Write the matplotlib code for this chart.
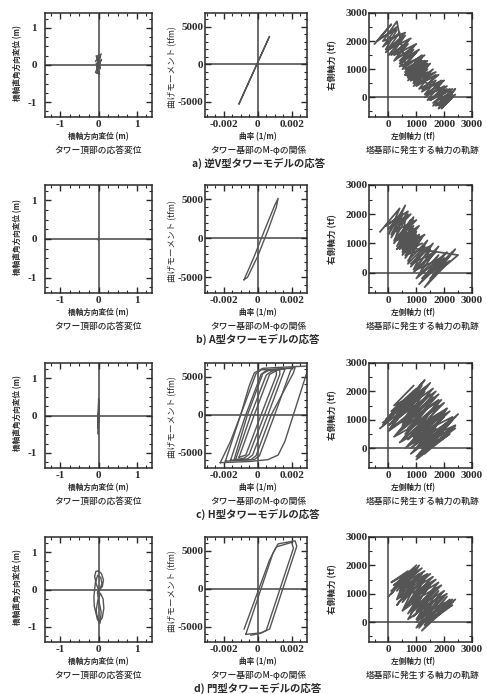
import matplotlib
matplotlib.use("Agg")
import matplotlib.pyplot as plt
import numpy as np

plt.rcParams['font.family'] = ['Noto Sans CJK JP', 'DejaVu Sans']
plt.rcParams['axes.unicode_minus'] = False

W, H = 487, 694
LINE = '#555555'
INK = '#2a2a2a'

# --- tower top displacement (m) ---
DISP_A_X = [0.00, -0.06, 0.05, -0.08, 0.07, -0.05, 0.08, -0.08, 0.03, -0.06, 0.05, 0.00, -0.05, 0.04, -0.03, 0.02, 0.00]
DISP_A_Y = [0.00, 0.25, 0.20, 0.10, 0.30, -0.05, 0.15, -0.20, -0.25, 0.05, -0.10, 0.28, -0.15, 0.12, -0.22, 0.08, 0.00]
DISP_B_X = [0.00, 0.01, -0.01, 0.00]
DISP_B_Y = [0.00, 0.02, -0.02, 0.00]
DISP_C_X = [0.00, 0.006, -0.005, 0.008, -0.006, 0.004, -0.003, 0.00]
DISP_C_Y = [0.00, 0.40, -0.35, 0.30, -0.50, 0.45, -0.20, 0.00]
DISP_D_X = [0.00, -0.06, -0.10, -0.07, 0.00, 0.08, 0.13, 0.10, 0.03, -0.03, 0.02, 0.09, 0.06, -0.02, -0.08,
            -0.12, -0.11, -0.05, 0.03, 0.10, 0.14, 0.12, 0.05, -0.02, -0.06, -0.03, 0.04, 0.07, 0.02, -0.02, 0.00]
DISP_D_Y = [0.00, 0.15, 0.35, 0.48, 0.50, 0.42, 0.25, 0.08, 0.00, -0.10, -0.02, 0.15, 0.32, 0.38, 0.20,
            -0.20, -0.45, -0.70, -0.85, -0.75, -0.50, -0.25, -0.10, -0.30, -0.55, -0.80, -0.90, -0.60, -0.35, -0.15, 0.00]

# --- M-phi at tower base: curvature (1/m), moment (tfm) ---
MPHI_A = [
    ([-0.0011, 0.0007, 0.00065, -0.0011], [-5300, 3700, 3500, -5200]),
]
MPHI_B = [
    ([-0.0008, -0.0002, 0.0004, 0.0010, 0.0012, 0.0011, 0.0006, 0.0000, -0.0006, -0.0008],
     [-5300, -2300, 1000, 4200, 5100, 4000, 1000, -2300, -5000, -5300]),
]
MPHI_C = [
    ([-0.0022, -0.0016, -0.0010, -0.0005, -0.0002, 0.0003, 0.0015, 0.0029, 0.0029, 0.0025, 0.0021, 0.0016, 0.0012, 0.0006, -0.0005, -0.0022],
     [-6300, -3500, 0, 3800, 5500, 6100, 6250, 6400, 5600, 2800, 0, -3500, -5300, -5900, -6150, -6300]),
    ([-0.0019, -0.0010, -0.0001, 0.0002, 0.0020, 0.0019, 0.0010, 0.0001, -0.0002, -0.0019],
     [-6100, 0, 5400, 5900, 6100, 5600, 0, -5400, -5900, -6100]),
    ([-0.0016, -0.0007, 0.0002, 0.0005, 0.0016, 0.0015, 0.0006, -0.0003, -0.0006, -0.0016],
     [-6000, 0, 5300, 5800, 6000, 5400, 0, -5300, -5800, -6000]),
    ([-0.0013, -0.0004, 0.0005, 0.0008, 0.0013, 0.0013, 0.0004, -0.0005, -0.0008, -0.0013],
     [-5900, 0, 5200, 5700, 5900, 5300, 0, -5200, -5700, -5900]),
    ([-0.0011, -0.0002, 0.0007, 0.0011, 0.0011, 0.0002, -0.0007, -0.0011],
     [-5600, 0, 5300, 5800, 5200, 0, -5300, -5600]),
    ([-0.0014, -0.0006, 0.0003, 0.0007, 0.0022, 0.0021, 0.0008, -0.0001, -0.0004, -0.0014],
     [-6000, 0, 5400, 5900, 6200, 5500, 0, -5400, -5900, -6000]),
]
MPHI_D = [
    ([-0.0007, 0.0009, 0.0012, 0.0022, 0.0023, 0.0007, 0.0002, -0.0007],
     [-6000, 4700, 5900, 6300, 5600, -5300, -5800, -6000]),
    ([-0.0008, 0.0007, 0.0011, 0.0020, 0.0021, 0.0005, 0.0001, -0.0004],
     [-5300, 3800, 5500, 6100, 5300, -5500, -5900, -6100]),
]

# --- axial force trajectories at tower base: left (tf), right (tf) ---
AXIAL_A_X = [-500, 100, -400, 300, -200, 400, -100, 600, 100, 700, 200, 900, 400, 1000, 500, 1200, 600, 1300, 800, 1400,
             900, 1600, 1000, 1700, 1200, 1900, 1300, 2000, 1500, 2200, 1600, 2300, 1800, 2400, 1900, 2300,
             1700, 2300, 1500, 2100, 1400, 2000, 1200, 1800, 1100, 1700, 900, 1500, 800, 1400, 700, 1300, 500, 1100,
             400, 1000, 200, 800, 0, 600, -200, 300, 700, 1300, 800, 1400, 600, 1200, 700, 1300, 900, 1400, 800, 1200]
AXIAL_A_Y = [1900, 2600, 2000, 2500, 1800, 2300, 1600, 2200, 1500, 2000, 1300, 1800, 1200, 1600, 1000, 1500, 800, 1300, 700, 1100,
             500, 1000, 400, 800, 200, 600, 0, 400, -100, 300, -200, 200, -300, 100, -400, 0,
             -300, 300, -100, 400, 100, 600, 300, 800, 500, 900, 600, 1200, 800, 1300, 1000, 1500, 1100, 1700,
             1300, 1900, 1500, 2100, 1700, 2300, 2000, 2700, 700, 1300, 600, 1200, 900, 1400, 800, 1100, 700, 1000, 600, 1100]
AXIAL_A2_X = [-300, 300, -100, 500, 0, 700, 300, 900, 400, 1100, 600, 1200, 700, 1300, 600, 1200, 800, 1400, 900, 1500,
              1100, 1700, 1300, 1900, 1400, 2100, 1600, 2300, 1800, 2400, 2000, 2200,
              600, 1200, 700, 1300, 800, 1200, 600, 1100, 900, 1300, 700, 1200]
AXIAL_A2_Y = [2100, 2400, 1700, 2100, 1500, 1900, 1400, 1700, 1100, 1400, 800, 1200, 700, 1000, 900, 1300, 600, 900, 400, 800,
              300, 600, 100, 500, -100, 300, -300, 100, -400, 300, -200, 200,
              800, 1200, 600, 1100, 700, 1300, 1000, 1300, 500, 900, 900, 800]
AXIAL_B_X = [-300, 400, 0, 600, 100, 700, -100, 500, 200, 800, 300, 900, 400, 1000, 300, 900, 500, 1100, 600, 1200,
             700, 1400, 800, 1600, 900, 1800, 1000, 2100, 1100, 2400, 1300, 2200, 1200, 1900, 1000, 1700, 800, 1500,
             600, 1300, 500, 1100, 300, 1000, 200, 800, 0, 600, 500, 1000, 600, 1100, 700, 1000, 500, 900, 600, 1200]
AXIAL_B_Y = [1400, 2200, 1300, 2300, 1200, 2100, 1600, 2000, 1000, 1800, 900, 1600, 800, 1500, 1200, 1900, 700, 1300, 500, 1200,
             400, 1100, 200, 1000, 0, 900, -200, 700, -400, 800, -500, 400, -200, 500, 100, 700, 300, 900,
             600, 1300, 900, 1600, 1100, 1800, 1400, 2000, 1500, 1900, 800, 1400, 900, 1200, 800, 1300, 1000, 1100, 700, 1000]
AXIAL_B2_X = [0, 500, 100, 700, 200, 800, 400, 900, 300, 800, 500, 1000, 400, 900, 600, 1100, 700, 1300, 900, 1500,
              1100, 1800, 1200, 2000, 1400, 2300, 1500, 2500, 400, 900, 500, 1000, 600, 1000, 400, 800]
AXIAL_B2_Y = [1500, 2100, 1300, 2000, 1100, 1700, 1000, 1500, 800, 1300, 600, 1200, 900, 1400, 700, 1300, 300, 900, 100, 800,
              -100, 600, -300, 500, -400, 700, -200, 600, 900, 1300, 800, 1200, 1000, 1400, 1100, 1300]
AXIAL_C_X = [-300, 700, 0, 1000, 200, 1200, 400, 1300, 300, 1100, 500, 1500, 400, 1400, 600, 1700, 700, 1800, 900, 2000,
             800, 2100, 1000, 2300, 1100, 2500, 1200, 2400, 1000, 2200, 900, 2000, 700, 1800, 500, 1600, 300, 1400,
             100, 1000, -100, 800, -200, 600, 0, 1000, 200, 1300, 400, 1500, 600, 1700, 800, 1900, 1000, 2200,
             1300, 2400, 1500, 2300, 1300, 2100, 1100, 1900, 900, 1700, 700, 1500, 600, 1200, 200, 900]
AXIAL_C_Y = [700, 1500, 800, 1800, 1000, 2300, 1300, 2400, 1100, 1900, 900, 1700, 600, 1400, 500, 1500, 300, 1200, 200, 1100,
             0, 900, -300, 1000, -200, 1200, 0, 800, 200, 1300, 500, 1600, 700, 1900, 900, 2100, 1200, 2200,
             1300, 2100, 1000, 1900, 800, 1600, 600, 1300, 400, 1000, 200, 800, 0, 700, -200, 600, -400, 500,
             -100, 700, 300, 1100, 600, 1400, 800, 1700, 1100, 2000, 1300, 2300, 1500, 2000, 1500, 2200]
AXIAL_C2_X = [-200, 800, 100, 1100, 300, 1300, 500, 1600, 700, 1900, 900, 2200, 1100, 2400, 1300, 2300, 1100, 2000,
              900, 1800, 700, 1600, 500, 1300, 300, 1200, 100, 900, 400, 1500, 600, 1800, 900, 2100, 1200, 2400]
AXIAL_C2_Y = [900, 1700, 700, 1500, 500, 1300, 300, 1100, 100, 1000, -100, 900, -300, 800, -200, 1000, 100, 1200,
              300, 1500, 600, 1800, 800, 2000, 1000, 2200, 1200, 2000, 1100, 1900, 900, 1700, 400, 1400, 0, 1100]
AXIAL_D_X = [0, 600, 100, 900, 300, 1100, 400, 1200, 300, 1000, 500, 1300, 600, 1400, 700, 1500, 800, 1700, 900, 1800,
             1000, 2000, 1100, 2200, 1200, 2400, 1300, 2300, 1200, 2100, 1000, 1900, 800, 1700, 600, 1500, 400, 1300,
             200, 1000, 100, 700, 300, 900, 500, 1200, 700, 1600, 1000, 1800, 1300, 2300]
AXIAL_D_Y = [900, 1600, 1000, 1900, 1100, 2000, 900, 1700, 600, 1500, 700, 1600, 500, 1400, 300, 1300, 400, 1200, 200, 1100,
             0, 900, -100, 800, -300, 800, -100, 600, 200, 1000, 400, 1300, 700, 1500, 900, 1700, 1100, 1800,
             1200, 1900, 1400, 1800, 800, 1200, 400, 900, 100, 700, -200, 500, 0, 700]
AXIAL_D2_X = [100, 800, 200, 1000, 400, 1100, 500, 1300, 700, 1500, 800, 1700, 1000, 1900, 1100, 2100, 1300, 2300,
              1200, 2000, 1000, 1800, 800, 1600, 600, 1400, 400, 1200, 200, 1000]
AXIAL_D2_Y = [1100, 1800, 1300, 1900, 1000, 1700, 800, 1500, 600, 1400, 300, 1200, 100, 1000, -200, 900, -100, 800,
              300, 1100, 500, 1400, 800, 1600, 1000, 1700, 1200, 1900, 1300, 2000]

ROW_CAPTIONS = ['a) 逆V型タワーモデルの応答', 'b) A型タワーモデルの応答',
                'c) H型タワーモデルの応答', 'd) 門型タワーモデルの応答']
ROWS = [(13, 117), (185, 293), (363, 468), (537, 642)]
COLS = [(45, 152), (205, 307), (369, 472)]

fig = plt.figure(figsize=(W / 100, H / 100), dpi=100)


def px_axes(l, t, r, b):
    return fig.add_axes([l / W, 1 - b / H, (r - l) / W, (b - t) / H])


def ftext(x, y, s, **kw):
    fig.text(x / W, 1 - y / H, s, ha='center', va='center', color=INK, **kw)


def style_axes(ax, xlim, ylim, xt, xtl, yt, ytl, xminor, yminor, ypad):
    ax.set_xlim(xlim)
    ax.set_ylim(ylim)
    ax.set_xticks(xt, xtl)
    ax.set_yticks(yt, ytl)
    ax.set_xticks(xminor, minor=True)
    ax.set_yticks(yminor, minor=True)
    ax.tick_params(which='both', direction='in', top=True, right=True, color=INK,
                   labelcolor=INK, labelsize=8)
    ax.tick_params(which='major', length=4, width=1)
    ax.tick_params(which='minor', length=2.5, width=0.8)
    ax.tick_params(axis='y', pad=ypad)
    ax.tick_params(axis='x', pad=2)
    for lab in ax.get_xticklabels() + ax.get_yticklabels():
        lab.set_family('Liberation Serif')
        lab.set_fontweight('bold')
    for sp in ax.spines.values():
        sp.set_linewidth(1.1)
        sp.set_color(INK)
    ax.axhline(0, color='#444444', lw=1.1, zorder=1)
    ax.axvline(0, color='#444444', lw=1.1, zorder=1)


disp = [(DISP_A_X, DISP_A_Y), (DISP_B_X, DISP_B_Y), (DISP_C_X, DISP_C_Y), (DISP_D_X, DISP_D_Y)]
mphi = [MPHI_A, MPHI_B, MPHI_C, MPHI_D]
axial = [[(AXIAL_A_X, AXIAL_A_Y), (AXIAL_A2_X, AXIAL_A2_Y)],
         [(AXIAL_B_X, AXIAL_B_Y), (AXIAL_B2_X, AXIAL_B2_Y)],
         [(AXIAL_C_X, AXIAL_C_Y), (AXIAL_C2_X, AXIAL_C2_Y)],
         [(AXIAL_D_X, AXIAL_D_Y), (AXIAL_D2_X, AXIAL_D2_Y)]]

for i, (top, bot) in enumerate(ROWS):
    # column 1: tower top displacement
    ax = px_axes(COLS[0][0], top, COLS[0][1], bot)
    ax.plot(disp[i][0], disp[i][1], color=LINE, lw=1.0, zorder=2)
    style_axes(ax, (-1.4, 1.4), (-1.4, 1.4), [-1, 0, 1], ['-1', '0', '1'], [-1, 0, 1], ['-1', '0', '1'],
               np.arange(-1.25, 1.3, 0.25), np.arange(-1.25, 1.3, 0.25), 6)
    ftext(18, (top + bot) / 2 - 2, '橋軸直角方向変位 (m)', rotation=90, fontsize=5.5, fontweight='bold')
    ftext(98, bot + 20, '橋軸方向変位 (m)', fontsize=5.5, fontweight='bold')
    ftext(98, bot + 33, 'タワー頂部の応答変位', fontsize=6.3, fontweight='medium')

    # column 2: M-phi
    ax = px_axes(COLS[1][0], top, COLS[1][1], bot)
    for xs, ys in mphi[i]:
        ax.plot(xs, ys, color=LINE, lw=1.0, zorder=2)
    style_axes(ax, (-0.0031, 0.0029), (-7000, 6800), [-0.002, 0, 0.002], ['-0.002', '0', '0.002'],
               [-5000, 0, 5000], ['-5000', '0', '5000'],
               np.arange(-0.003, 0.003, 0.0005), np.arange(-6000, 6500, 1000), 1)
    ftext(173, (top + bot) / 2 + 2, '曲げモーメント (tfm)', rotation=90, fontsize=6.2)
    ftext(258, bot + 20, '曲率 (1/m)', fontsize=5.5, fontweight='bold')
    ftext(258, bot + 33, 'タワー基部のM-φの関係', fontsize=6.3, fontweight='medium')

    # column 3: axial force trajectory
    ax = px_axes(COLS[2][0], top, COLS[2][1], bot)
    for xs, ys in axial[i]:
        ax.plot(xs, ys, color=LINE, lw=1.3, zorder=2)
    style_axes(ax, (-700, 2900), (-700, 3000), [0, 1000, 2000, 3000], ['0', '1000', '2000', '3000'],
               [0, 1000, 2000, 3000], ['0', '1000', '2000', '3000'],
               np.arange(-500, 3000, 500), np.arange(-500, 3000, 500), 1)
    ftext(333, (top + bot) / 2, '右側軸力 (tf)', rotation=90, fontsize=6.2, fontweight='bold')
    ftext(413, bot + 20, '左側軸力 (tf)', fontsize=5.5, fontweight='bold')
    ftext(423, bot + 33, '塔基部に発生する軸力の軌跡', fontsize=6.3, fontweight='medium')

    ftext(258, bot + 46, ROW_CAPTIONS[i], fontsize=7.5, fontweight='bold')

fig.savefig('out.png', dpi=100)
